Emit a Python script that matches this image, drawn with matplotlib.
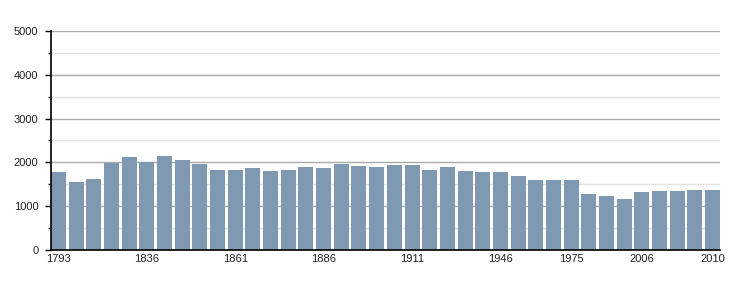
import matplotlib
matplotlib.use('Agg')
import matplotlib.pyplot as plt
from matplotlib.ticker import MultipleLocator

years = [1793, 1800, 1806, 1821, 1831, 1836, 1841, 1846, 1851, 1856,
         1861, 1866, 1872, 1876, 1881, 1886, 1891, 1896, 1901, 1906,
         1911, 1921, 1926, 1931, 1936, 1946, 1954, 1962, 1968, 1975,
         1982, 1990, 1999, 2006, 2007, 2008, 2009, 2010]
population = [1780, 1550, 1620, 1990, 2120, 2005, 2145, 2055, 1960, 1825,
              1825, 1870, 1800, 1825, 1895, 1870, 1960, 1915, 1895, 1940,
              1940, 1825, 1895, 1800, 1780, 1780, 1690, 1595, 1595, 1595,
              1280, 1230, 1165, 1320, 1345, 1345, 1370, 1370]
labelled = [1793, 1836, 1861, 1886, 1911, 1946, 1975, 2006, 2010]

plt.rcParams['font.family'] = ['Liberation Sans', 'DejaVu Sans']

fig = plt.figure(figsize=(7.5, 3), dpi=100)
ax = fig.add_axes([0.068, 0.1667, 0.892, 0.73])

w = 0.85
pos = list(range(len(years)))
ax.bar(pos, population, width=w, color='#7f99b3', zorder=3)

ax.set_ylim(0, 5000)
ax.set_xlim(-w / 2, len(years) - 1 + w / 2)
ax.yaxis.set_major_locator(MultipleLocator(1000))
ax.yaxis.set_minor_locator(MultipleLocator(500))
ax.grid(axis='y', which='major', color='#aaaaaa', linewidth=1, zorder=1)
ax.grid(axis='y', which='minor', color='#e2e2e2', linewidth=1, zorder=1)

ticks = [years.index(y) for y in labelled]
ax.set_xticks(ticks)
ax.set_xticklabels([str(y) for y in labelled])
ax.tick_params(axis='x', length=0, pad=3, labelsize=8, colors='#222222')
ax.tick_params(axis='y', which='major', length=4, width=1, pad=5, labelsize=8,
               labelcolor='#222222')
ax.tick_params(axis='y', which='minor', length=2, width=1)

for s in ['top', 'right']:
    ax.spines[s].set_visible(False)
ax.spines['left'].set_linewidth(1.2)
ax.spines['bottom'].set_linewidth(1.2)
ax.spines['left'].set_zorder(4)
ax.spines['bottom'].set_zorder(4)

fig.savefig('out.png', dpi=100)
